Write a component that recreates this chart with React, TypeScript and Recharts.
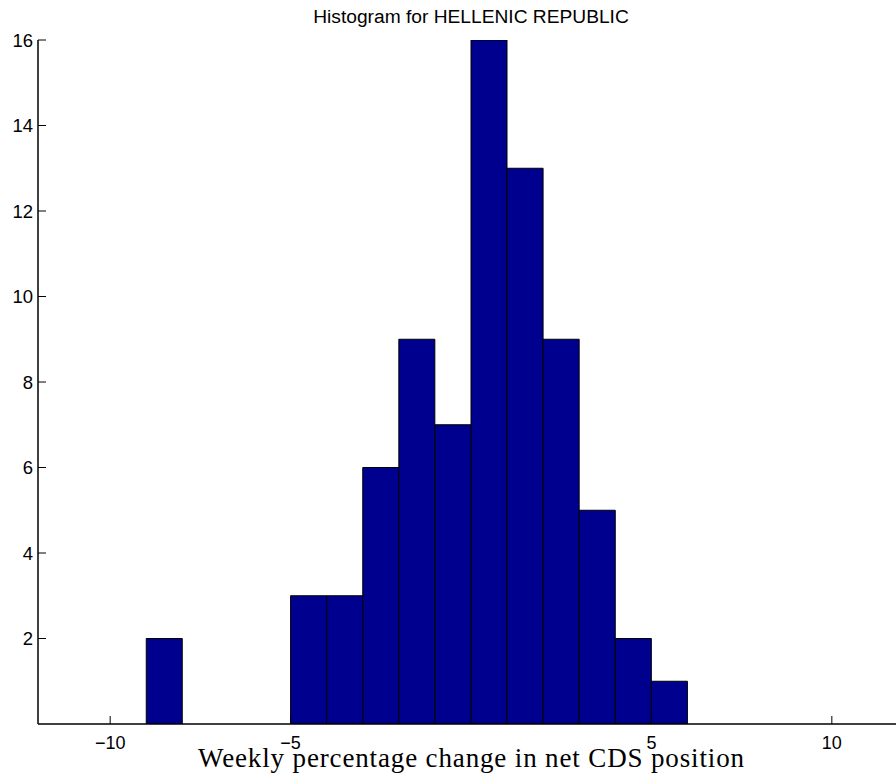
import React from 'react';
import { BarChart, Bar, XAxis, YAxis } from 'recharts';

// histogram bins (centres of 1-unit wide bins) and their counts
const binCenters = [-8.5, -4.5, -3.5, -2.5, -1.5, -0.5, 0.5, 1.5, 2.5, 3.5, 4.5, 5.5];
const binCounts = [2, 3, 3, 6, 9, 7, 16, 13, 9, 5, 2, 1];

const xDomain: [number, number] = [-12, 12];
const yDomain: [number, number] = [0, 16];
const xTicks = [-10, -5, 5, 10];
const yTicks = [2, 4, 6, 8, 10, 12, 14, 16];

const data = binCenters.map((c, i) => ({ center: c, count: binCounts[i] }));

const CHART_W = 920;
const CHART_H = 778;
const margin = { top: 40, right: 16, bottom: 0, left: 0 };
const Y_AXIS_W = 38;

const TICK_LEN = 8;
const sans = 'Liberation Sans, Arial, Helvetica, sans-serif';

const fmt = (v: number) => (v < 0 ? `\u2212${Math.abs(v)}` : `${v}`);

const BottomTick = (props: any) => {
  const { x, y, payload } = props;
  return (
    <g>
      <line x1={x} x2={x} y1={y} y2={y - TICK_LEN} stroke="#000" strokeWidth={1} />
      <text x={x} y={y + 24.5} textAnchor="middle" fontFamily={sans} fontSize={18} fill="#000">
        {fmt(payload.value)}
      </text>
    </g>
  );
};

const TopTick = (props: any) => {
  const { x, y } = props;
  return <line x1={x} x2={x} y1={y} y2={y + TICK_LEN} stroke="#000" strokeWidth={1} />;
};

const LeftTick = (props: any) => {
  const { x, y, payload } = props;
  return (
    <g>
      <line x1={x} x2={x + TICK_LEN} y1={y} y2={y} stroke="#000" strokeWidth={1} />
      <text x={x - 5} y={y} dy="0.36em" textAnchor="end" fontFamily={sans} fontSize={18.5} fill="#000">
        {payload.value}
      </text>
    </g>
  );
};

const XTitle = (props: any) => {
  const { viewBox } = props;
  const cx = viewBox.x + viewBox.width / 2;
  return (
    <text
      x={cx}
      y={viewBox.y + 42.5}
      textAnchor="middle"
      fontFamily="Liberation Serif, Times New Roman, serif"
      fontSize={27}
      textLength={546}
      lengthAdjust="spacing"
      fill="#000"
    >
      Weekly percentage change in net CDS position
    </text>
  );
};

export default function App() {
  return (
    <div
      style={{
        position: 'absolute',
        left: 0,
        top: 0,
        width: 896,
        height: 778,
        overflow: 'hidden',
        background: '#fff',
      }}
    >
      <div
        style={{
          position: 'absolute',
          left: 0,
          width: 942,
          top: 6,
          textAlign: 'center',
          fontFamily: sans,
          fontSize: 19.2,
          color: '#000',
        }}
      >
        Histogram for HELLENIC REPUBLIC
      </div>
      <BarChart width={CHART_W} height={CHART_H} data={data} margin={margin} barGap={0} barCategoryGap={0}>
        <XAxis
          xAxisId="bottom"
          type="number"
          dataKey="center"
          domain={xDomain}
          ticks={xTicks}
          allowDataOverflow
          height={54}
          tickSize={0}
          tickMargin={0}
          tickLine={false}
          tick={BottomTick}
          axisLine={{ stroke: '#000', strokeWidth: 1.5 }}
          label={{ content: XTitle }}
        />
        <XAxis
          xAxisId="top"
          orientation="top"
          type="number"
          dataKey="center"
          domain={xDomain}
          ticks={xTicks}
          allowDataOverflow
          height={0}
          tickSize={0}
          tickMargin={0}
          tickLine={false}
          tick={TopTick}
          axisLine={{ stroke: '#000', strokeWidth: 1.5 }}
        />
        <YAxis
          type="number"
          domain={yDomain}
          ticks={yTicks}
          allowDataOverflow
          width={Y_AXIS_W}
          tickSize={0}
          tickMargin={0}
          tickLine={false}
          tick={LeftTick}
          axisLine={{ stroke: '#000', strokeWidth: 1.5 }}
        />
        <Bar
          xAxisId="bottom"
          dataKey="count"
          fill="#00008F"
          stroke="#000"
          strokeWidth={1}
          isAnimationActive={false}
        />
      </BarChart>
    </div>
  );
}
